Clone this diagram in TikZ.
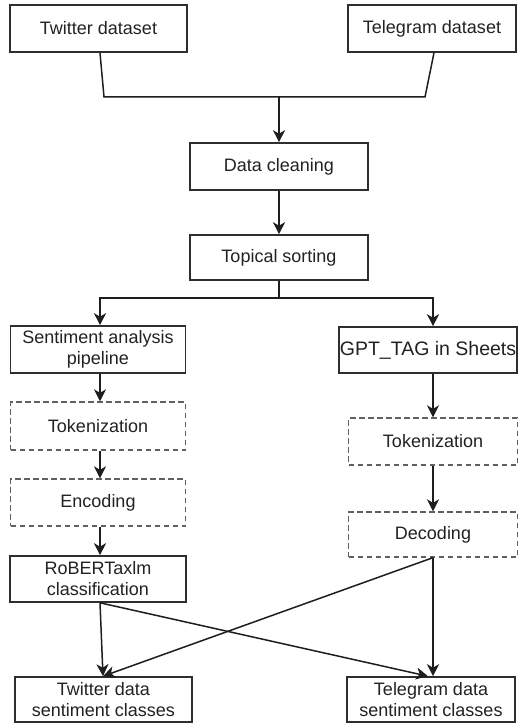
\documentclass[tikz,border=0pt]{standalone}
\usepackage{fontspec}
\setmainfont{Liberation Sans}
\usetikzlibrary{arrows.meta}
\definecolor{ln}{HTML}{1E1E1E}
\definecolor{bx}{HTML}{2E2E2E}
\definecolor{dsh}{HTML}{606060}
\definecolor{tx}{HTML}{222222}
\tikzset{
  box/.style={draw=bx, line width=1.6pt, fill=white, text=tx, align=center,
    inner sep=0pt, font=\fontsize{18}{21}\selectfont, anchor=center},
  dbox/.style={box, draw=dsh, line width=1.3pt, dash pattern=on 5.5pt off 3.5pt},
  conn/.style={draw=ln, line width=1.5pt},
  arr/.style={conn, -{Stealth[length=12pt,width=12pt,inset=3.5pt]}}
}
\begin{document}
\begin{tikzpicture}[x=1pt,y=-1pt]
\useasboundingbox (0,0) rectangle (517,727);
\fill[white] (0,0) rectangle (517,727);
% nodes
\node[box, minimum width=177pt, minimum height=47pt] (tw) at (98.5,28.5) {Twitter dataset};
\node[box, minimum width=168pt, minimum height=47pt] (tg) at (432,28.5) {Telegram dataset};
\node[box, minimum width=178pt, minimum height=47pt] (dc) at (279,166.5) {Data cleaning};
\node[box, minimum width=178pt, minimum height=45pt] (ts) at (279,257.5) {Topical sorting};
\node[box, minimum width=175pt, minimum height=47pt] (sa) at (98,349.5) {Sentiment analysis\\pipeline};
\node[box, minimum width=178pt, minimum height=46pt, font=\fontsize{19.5}{22}\selectfont] (gpt) at (428,350) {GPT\_TAG in Sheets};
\node[dbox, minimum width=175pt, minimum height=48pt] (tok1) at (98,426) {Tokenization};
\node[dbox, minimum width=175pt, minimum height=47pt] (enc) at (98,502.5) {Encoding};
\node[box, minimum width=176pt, minimum height=46pt] (rob) at (98,579) {RoBERTaxlm\\classification};
\node[dbox, minimum width=169pt, minimum height=47pt] (tok2) at (433,441.5) {Tokenization};
\node[dbox, minimum width=169pt, minimum height=45pt] (dec) at (433,534.5) {Decoding};
\node[box, minimum width=177pt, minimum height=45pt] (twd) at (103.5,699.5) {Twitter data\\sentiment classes};
\node[box, minimum width=168pt, minimum height=45pt] (tgd) at (431,699.5) {Telegram data\\sentiment classes};
% junctions
\coordinate (jl) at (104,97);
\coordinate (jr) at (425,97);
\coordinate (jm) at (279,97);
% connectors
\draw[conn] ([xshift=1.5pt]tw.south) -- (jl) -- (jr) -- ([xshift=2pt]tg.south);
\draw[arr] (jm) -- (dc.north);
\draw[arr] (dc.south) -- (ts.north);
\draw[arr] (ts.south) -- ++(0,17) -| ([xshift=2pt]sa.north);
\draw[arr] (ts.south) -- ++(0,17) -| ([xshift=5pt]gpt.north);
\draw[arr] ([xshift=2pt]sa.south) -- ([xshift=2pt]tok1.north);
\draw[arr] ([xshift=2pt]tok1.south) -- ([xshift=2pt]enc.north);
\draw[arr] ([xshift=2pt]enc.south) -- ([xshift=2pt]rob.north);
\draw[arr] (gpt.south -| tok2.north) -- (tok2.north);
\draw[arr] (tok2.south) -- (dec.north);
\draw[arr] (dec.south) -- (dec.south |- tgd.north);
\draw[arr] (dec.south) -- ([xshift=-0.5pt]twd.north);
\draw[arr] ([xshift=2pt]rob.south) -- ([xshift=-0.5pt]twd.north);
\draw[arr] ([xshift=2pt]rob.south) -- ([xshift=-3pt]tgd.north);
\end{tikzpicture}
\end{document}
